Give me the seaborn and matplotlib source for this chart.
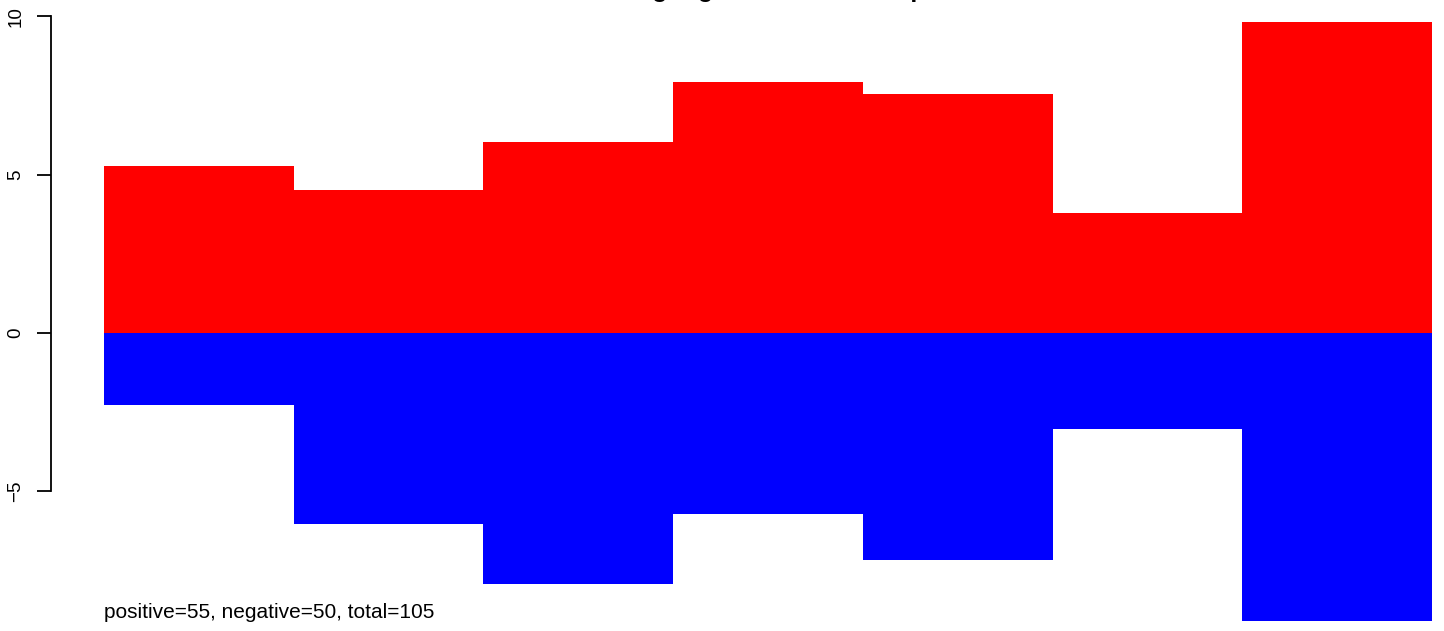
import matplotlib
matplotlib.use("Agg")
import matplotlib.pyplot as plt
import seaborn as sns
import pandas as pd

# ---- data ----
categories = ["1", "2", "3", "4", "5", "6", "7"]
positive = [5.28, 4.53, 6.04, 7.91, 7.56, 3.80, 9.81]
negative = [-2.28, -6.04, -7.91, -5.70, -7.18, -3.04, -9.08]
y_ticks = [-5, 0, 5, 10]
title_text = "Rating Sign Counts in Sample"
subtitle_text = "positive=55, negative=50, total=105"

sns.set_style("white")
plt.rcParams["font.family"] = ["Liberation Sans", "DejaVu Sans"]
plt.rcParams["text.color"] = "black"

df = pd.DataFrame({"cat": categories, "pos": positive, "neg": negative})

W, H = 1444, 631
fig = plt.figure(figsize=(W / 100, H / 100), dpi=100)
ax = fig.add_axes([0, 0, 1, 1])
ax.patch.set_alpha(0)

sns.barplot(data=df, x="cat", y="pos", color="#ff0000", saturation=1,
            width=1.0, linewidth=0, ax=ax)
sns.barplot(data=df, x="cat", y="neg", color="#0000ff", saturation=1,
            width=1.0, linewidth=0, ax=ax)

# pixel mapping: bar edges at x=104..1432, y=0 at pixel 333, 31.67 px/unit
pxu = (1432 - 104) / len(categories)
ax.set_xlim(-0.5 - 104 / pxu, len(categories) - 0.5 + (W - 1432) / pxu)
ypu = 31.67
ax.set_ylim(-(H - 333) / ypu, 333 / ypu)

for s in ["top", "right", "bottom"]:
    ax.spines[s].set_visible(False)
ax.spines["left"].set_position(("axes", 51 / W))
ax.spines["left"].set_bounds(min(y_ticks), max(y_ticks))
ax.spines["left"].set_linewidth(1.3)
ax.spines["left"].set_color("black")
ax.set_yticks(y_ticks)
ax.set_yticklabels([str(t).replace("-", "\u2212") for t in y_ticks],
                   rotation=90, va="center", fontsize=13.5)
ax.tick_params(axis="y", left=True, direction="out", length=10.1, width=1.3,
               pad=9, colors="black", labelcolor="black")
ax.xaxis.set_visible(False)
ax.set_xlabel("")
ax.set_ylabel("")

fig.text(768 / W, 1 + 2.5 / H, title_text, ha="center", va="baseline",
         fontsize=18, fontweight="bold", color="black")
fig.text(104 / W, 1 - 613 / H, subtitle_text, ha="left", va="center",
         fontsize=15, color="black")

fig.savefig("out.png", dpi=100)
